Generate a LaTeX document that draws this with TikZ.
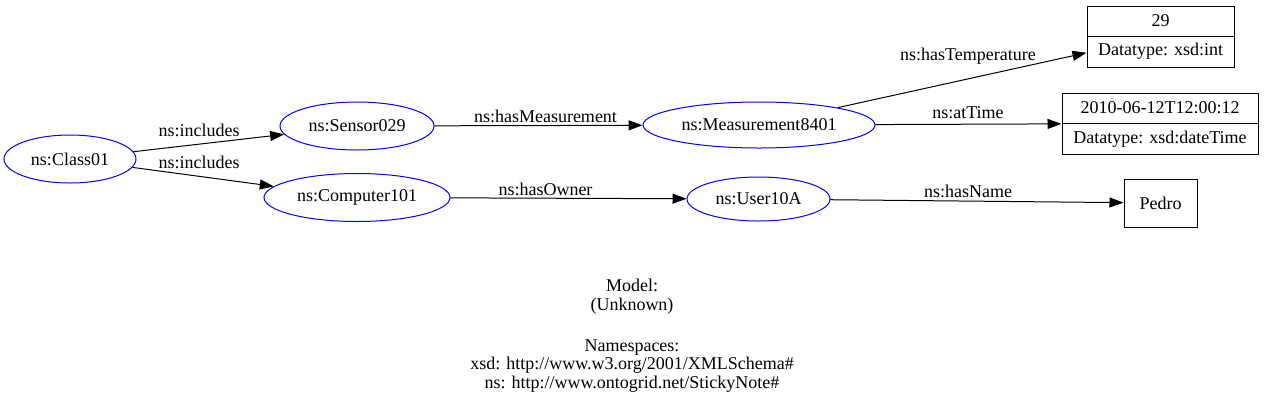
\documentclass[tikz,border=0pt]{standalone}
\usepackage{fontspec}
\setmainfont{Liberation Serif}
\usetikzlibrary{shapes.geometric,arrows.meta}
\begin{document}
\begin{tikzpicture}[x=0.75pt,y=-0.75pt,
  every node/.style={font=\fontsize{13.5}{16.2}\selectfont, inner sep=0pt},
  res/.style={ellipse, draw=blue, line width=0.75pt},
  lit/.style={rectangle, draw=black, line width=0.75pt},
  edge/.style={draw=black, line width=0.75pt, -{Triangle[length=10.5pt,width=7.5pt]}},
  lbl/.style={anchor=center}]
\useasboundingbox (0,0) rectangle (1264,408);
\fill[white] (0,0) rectangle (1264,408);
% resources
\node[res, minimum width=99pt, minimum height=36pt] (class) at (70,159) {ns:Class01};
\node[res, minimum width=115.5pt, minimum height=36pt] (sensor) at (357,126) {ns:Sensor029};
\node[res, minimum width=139.5pt, minimum height=36pt] (comp) at (357,197.5) {ns:Computer101};
\node[res, minimum width=174pt, minimum height=34.5pt] (meas) at (759,125) {ns:Measurement8401};
\node[res, minimum width=107.25pt, minimum height=33pt] (user) at (758.5,199) {ns:User10A};
% literals
\node[lit, minimum width=110.25pt, minimum height=45.75pt] (temp) at (1160.5,36.5) {};
\draw[line width=0.75pt] (temp.west) -- (temp.east);
\node (tempv) at (1160.5,21) {29};
\node (tempt) at (1160.5,51.5) {Datatype: xsd:int};
\node[lit, minimum width=147pt, minimum height=45.75pt] (time) at (1160,123.5) {};
\draw[line width=0.75pt] (time.west) -- (time.east);
\node (timev) at (1160,108) {2010-06-12T12:00:12};
\node (timet) at (1160,139) {Datatype: xsd:dateTime};
\node[lit, minimum width=54.75pt, minimum height=36pt] (pedro) at (1160.5,203) {Pedro};
% edges
\draw[edge] (class) -- (sensor);
\draw[edge] (class) -- (comp);
\draw[edge] (sensor) -- (meas);
\draw[edge] (comp) -- (user);
\draw[edge] (meas) -- (temp);
\draw[edge] (meas) -- (time);
\draw[edge] (user) -- (pedro);
% edge labels
\node[lbl] (l1) at (199,130) {ns:includes};
\node[lbl] (l2) at (199,162.5) {ns:includes};
\node[lbl] (l3) at (545.5,116) {ns:hasMeasurement};
\node[lbl] (l4) at (545.5,189) {ns:hasOwner};
\node[lbl] (l5) at (968,56) {ns:hasTemperature};
\node[lbl] (l6) at (968,112.5) {ns:atTime};
\node[lbl] (l7) at (968,191) {ns:hasName};
% caption
\node[anchor=base, align=center, font=\fontsize{13.5}{13.7}\selectfont] (cap) at (632,388)
  {Model:\\(Unknown)\\[17.4pt]Namespaces:\\xsd: http://www.w3.org/2001/XMLSchema\#\\ns: http://www.ontogrid.net/StickyNote\#};
\end{tikzpicture}
\end{document}
